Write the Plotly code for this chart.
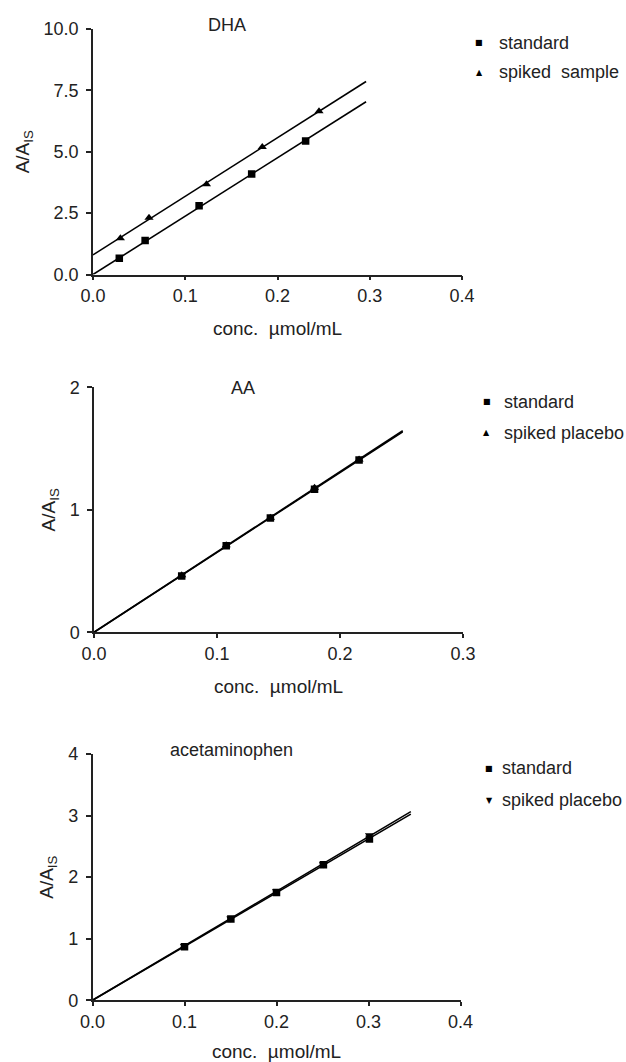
import numpy as np
import plotly.graph_objects as go

# ---- data ----
dha_std_x = [0.0285, 0.0565, 0.115, 0.172, 0.2305]
dha_std_y = [0.66, 1.38, 2.80, 4.09, 5.44]
dha_spk_x = [0.0297, 0.0607, 0.123, 0.1835, 0.245]
dha_spk_y = [1.48, 2.31, 3.68, 5.19, 6.65]

aa_std_x = [0.0713, 0.1075, 0.1434, 0.1793, 0.2155]
aa_std_y = [0.46, 0.707, 0.933, 1.167, 1.407]
aa_spk_x = [0.0713, 0.1075, 0.1434, 0.1793, 0.2155]
aa_spk_y = [0.465, 0.71, 0.935, 1.18, 1.41]

ac_std_x = [0.100, 0.1504, 0.200, 0.251, 0.301]
ac_std_y = [0.87, 1.32, 1.75, 2.20, 2.62]
ac_spk_x = [0.100, 0.1504, 0.200, 0.251, 0.301]
ac_spk_y = [0.88, 1.33, 1.77, 2.21, 2.68]

fit_end = [0.296, 0.251, 0.346]
panel_titles = ["DHA", "AA", "acetaminophen"]
x_ranges = [[0, 0.4], [0, 0.3], [0, 0.4]]
y_ranges = [[0, 10], [0, 2], [0, 4]]
y_ticks = [[0, 2.5, 5.0, 7.5, 10.0], [0, 1, 2], [0, 1, 2, 3, 4]]
y_fmt = [".1f", "d", "d"]
x_ticks = [[0, 0.1, 0.2, 0.3, 0.4], [0, 0.1, 0.2, 0.3], [0, 0.1, 0.2, 0.3, 0.4]]
legend_names = [["standard", "spiked  sample"], ["standard", "spiked placebo"], ["standard", "spiked placebo"]]
spk_symbols = ["triangle-up", "triangle-up", "triangle-down"]
legend_glyphs = [["\u25a0", "\u25b2"], ["\u25a0", "\u25b2"], ["\u25a0", "\u25bc"]]

W, H = 626, 1062
FONT = "Liberation Sans, Arial, sans-serif"
INK = "#222"

# pixel layout of plot areas (left, right, top, bottom)
boxes = [(93, 462, 29, 274.5), (94, 463, 387.3, 632.3), (92.5, 460.5, 754, 1000.3)]

fig = go.Figure()

series = [
    (dha_std_x, dha_std_y, dha_spk_x, dha_spk_y),
    (aa_std_x, aa_std_y, aa_spk_x, aa_spk_y),
    (ac_std_x, ac_std_y, ac_spk_x, ac_spk_y),
]

for i, (sx, sy, px, py) in enumerate(series):
    xa = "x" if i == 0 else f"x{i+1}"
    ya = "y" if i == 0 else f"y{i+1}"
    # fit lines (standard through origin; DHA spiked sample with intercept)
    for k, (xs, ys) in enumerate(((sx, sy), (px, py))):
        xs_a, ys_a = np.array(xs), np.array(ys)
        if i == 0 and k == 1:
            m, b = np.polyfit(xs_a, ys_a, 1)
        else:
            m, b = np.dot(xs_a, ys_a) / np.dot(xs_a, xs_a), 0.0
        lx = np.array([0.0, fit_end[i]])
        fig.add_trace(go.Scatter(x=lx, y=m * lx + b, mode="lines", xaxis=xa, yaxis=ya,
                                 line=dict(color="black", width=1.6), showlegend=False,
                                 hoverinfo="skip", cliponaxis=False))
    fig.add_trace(go.Scatter(x=px, y=py, mode="markers", xaxis=xa, yaxis=ya,
                             marker=dict(symbol=spk_symbols[i], size=8, color="black"),
                             name=legend_names[i][1], showlegend=False))
    fig.add_trace(go.Scatter(x=sx, y=sy, mode="markers", xaxis=xa, yaxis=ya,
                             marker=dict(symbol="square", size=7.5, color="black"),
                             name=legend_names[i][0], showlegend=False))

layout = dict(
    width=W, height=H, margin=dict(l=0, r=0, t=0, b=0),
    paper_bgcolor="white", plot_bgcolor="white",
    font=dict(family=FONT, size=18, color=INK),
    showlegend=False,
)

annotations = []
for i, (l, r, t, btm) in enumerate(boxes):
    xk = "xaxis" if i == 0 else f"xaxis{i+1}"
    yk = "yaxis" if i == 0 else f"yaxis{i+1}"
    ya = "y" if i == 0 else f"y{i+1}"
    xa = "x" if i == 0 else f"x{i+1}"
    layout[xk] = dict(
        domain=[l / W, r / W], anchor=ya, range=x_ranges[i], tickvals=x_ticks[i],
        tickformat=".1f", showgrid=False, zeroline=False, showline=True, automargin=False,
        linecolor=INK, linewidth=1.5, ticks="outside", ticklen=4, tickwidth=1.5,
        tickcolor=INK, tickfont=dict(size=18, color=INK),
        title=dict(text="conc.  \u00b5mol/mL", font=dict(size=19, color=INK), standoff=17),
    )
    layout[yk] = dict(
        domain=[1 - btm / H, 1 - t / H], anchor=xa, range=y_ranges[i], tickvals=y_ticks[i],
        tickformat=y_fmt[i], showgrid=False, zeroline=False, showline=True, automargin=False,
        linecolor=INK, linewidth=1.5, ticks="outside", ticklen=5, tickwidth=1.5,
        tickcolor=INK, tickfont=dict(size=18, color=INK), ticklabelstandoff=4,
        title=dict(text="A/A<sub>IS</sub>", font=dict(size=19, color=INK), standoff=9),
    )

# legends drawn as text (marker glyph + label)
legend_marker_x = [479, 486.5, 489]
legend_text_x = [497, 501.5, 500]
legend_rows_y = [[43, 72], [401.7, 433], [768, 800]]
for i in range(3):
    for j in range(2):
        yy = 1 - legend_rows_y[i][j] / H
        annotations.append(dict(text=legend_glyphs[i][j], x=legend_marker_x[i] / W, y=yy,
                                xref="paper", yref="paper", showarrow=False,
                                xanchor="center", yanchor="middle",
                                font=dict(family="DejaVu Sans", size=8, color="black")))
        annotations.append(dict(text=legend_names[i][j], x=legend_text_x[i] / W, y=yy,
                                xref="paper", yref="paper", showarrow=False,
                                xanchor="left", yanchor="middle",
                                font=dict(size=18, color=INK)))

title_pos = [(226.5, 25), (243, 388), (231, 750)]
for i, (tx, ty) in enumerate(title_pos):
    annotations.append(dict(text=panel_titles[i], x=tx / W, y=1 - ty / H, xref="paper", yref="paper",
                            showarrow=False, xanchor="center", yanchor="middle",
                            font=dict(size=18, color=INK)))
layout["annotations"] = annotations

fig.update_layout(**layout)
fig.write_html("out.html", config={"displayModeBar": False},
               post_script="document.body.style.margin='0px';document.body.style.overflow='hidden';")
